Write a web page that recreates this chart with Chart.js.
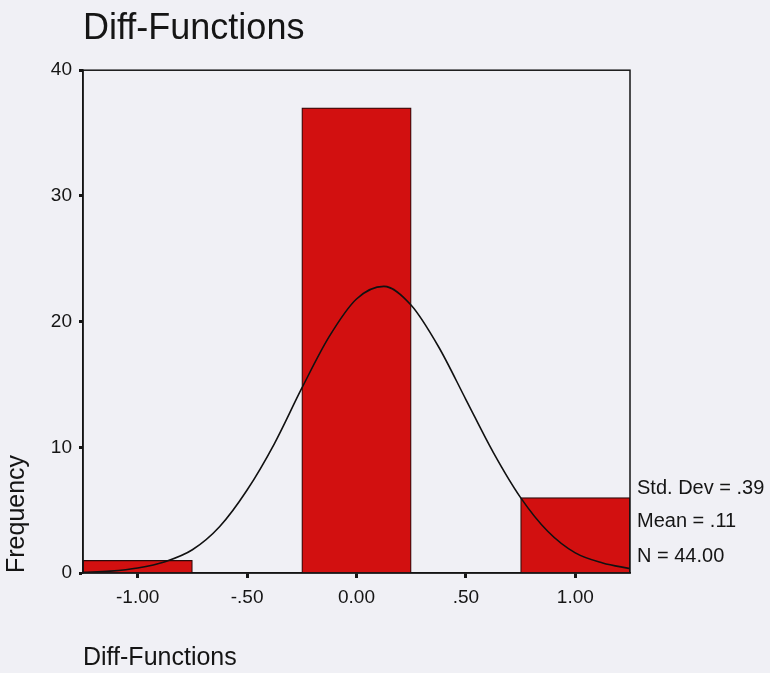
<!DOCTYPE html>
<html>
<head>
<meta charset="utf-8">
<script src="https://cdn.jsdelivr.net/npm/chart.js@4.4.1/dist/chart.umd.min.js"></script>
<style>
  html, body { margin: 0; padding: 0; background: #f0f0f5; }
  canvas { display: block; }
</style>
</head>
<body>
<canvas id="c" width="770" height="673"></canvas>
<script>
// ---- data ----
const binCenters = [-1.0, 0.0, 1.0];
const binCounts = [1, 37, 6];
const xTickValues = [-1.0, -0.5, 0.0, 0.5, 1.0];
const xTickLabels = ['-1.00', '-.50', '0.00', '.50', '1.00'];
const curveX = [-1.25, -1.125, -1.0, -0.875, -0.75, -0.625, -0.5, -0.375, -0.25, -0.125, 0.0, 0.125, 0.25, 0.375, 0.5, 0.625, 0.75, 0.875, 1.0, 1.125, 1.25];
const curveY = [0.05, 0.15, 0.4, 0.9, 1.85, 3.7, 6.6, 10.3, 14.7, 18.8, 21.8, 22.8, 21.3, 18.0, 13.8, 9.6, 6.0, 3.3, 1.6, 0.8, 0.35];
const statsLines = ['Std. Dev = .39', 'Mean = .11', 'N = 44.00'];
const titleText = 'Diff-Functions';
const xTitle = 'Diff-Functions';
const yTitle = 'Frequency';

const FONT = "'Liberation Sans', Arial, Helvetica, sans-serif";
const INK = '#151515';
const BG = '#f0f0f5';

const barData = binCenters.map((x, i) => ({ x: x, y: binCounts[i] }));
const curveData = curveX.map((x, i) => ({ x: x, y: curveY[i] }));

const bgPlugin = {
  id: 'bg',
  beforeDraw(chart) {
    const ctx = chart.ctx;
    ctx.save();
    ctx.fillStyle = BG;
    ctx.fillRect(0, 0, chart.width, chart.height);
    ctx.restore();
  }
};

const framePlugin = {
  id: 'frame',
  afterDraw(chart) {
    const { ctx, chartArea: a } = chart;
    ctx.save();
    ctx.strokeStyle = INK;
    ctx.lineWidth = 1.5;
    ctx.strokeRect(a.left, a.top, a.right - a.left, a.bottom - a.top);
    // stats text
    ctx.fillStyle = INK;
    ctx.font = '20px ' + FONT;
    ctx.textAlign = 'left';
    ctx.textBaseline = 'alphabetic';
    const offs = [79, 46, 11];
    statsLines.forEach((s, i) => {
      ctx.fillText(s, a.right + 7, a.bottom - offs[i]);
    });
    ctx.restore();
  }
};

new Chart(document.getElementById('c'), {
  type: 'bar',
  data: {
    datasets: [
      {
        type: 'line',
        data: curveData,
        borderColor: '#111111',
        borderWidth: 1.6,
        pointRadius: 0,
        tension: 0.4,
        cubicInterpolationMode: 'monotone',
        fill: false,
        order: 0
      },
      {
        type: 'bar',
        data: barData,
        backgroundColor: '#d21010',
        borderColor: '#2a0a0a',
        borderWidth: 1.2,
        barPercentage: 1.0,
        categoryPercentage: 1.0,
        order: 1
      }
    ]
  },
  options: {
    responsive: false,
    animation: false,
    devicePixelRatio: 1,
    layout: { padding: { left: 0, right: 140, top: 0, bottom: 0 } },
    plugins: {
      legend: { display: false },
      tooltip: { enabled: false },
      title: {
        display: true,
        text: titleText,
        align: 'start',
        fullSize: false,
        color: INK,
        font: { family: FONT, size: 36, weight: 'normal' },
        padding: { top: 7, bottom: 20 }
      }
    },
    scales: {
      x: {
        type: 'linear',
        min: -1.25,
        max: 1.25,
        offset: false,
        afterBuildTicks(scale) {
          scale.ticks = xTickValues.map(v => ({ value: v }));
        },
        afterFit(scale) { scale.height = 100; },
        ticks: {
          color: INK,
          font: { family: FONT, size: 19 },
          padding: 8,
          maxRotation: 0,
          autoSkip: false,
          callback(value) {
            const i = xTickValues.indexOf(value);
            return i >= 0 ? xTickLabels[i] : '';
          }
        },
        grid: {
          offset: false,
          drawOnChartArea: false,
          drawTicks: true,
          tickLength: 5,
          tickWidth: 3,
          tickColor: INK
        },
        border: { display: true, color: INK, width: 1.5 },
        title: {
          display: true,
          text: xTitle,
          align: 'start',
          color: INK,
          font: { family: FONT, size: 25 },
          padding: { top: 0, bottom: 0 }
        }
      },
      y: {
        type: 'linear',
        min: 0,
        max: 40,
        afterFit(scale) { scale.width = 83; },
        ticks: {
          stepSize: 10,
          color: INK,
          font: { family: FONT, size: 19 },
          padding: 7
        },
        grid: {
          drawOnChartArea: false,
          drawTicks: true,
          tickLength: 4,
          tickWidth: 3,
          tickColor: INK
        },
        border: { display: true, color: INK, width: 1.5 },
        title: {
          display: true,
          text: yTitle,
          align: 'start',
          color: INK,
          font: { family: FONT, size: 25 },
          padding: { top: 2, bottom: 0 }
        }
      }
    }
  },
  plugins: [bgPlugin, framePlugin]
});
</script>
</body>
</html>
